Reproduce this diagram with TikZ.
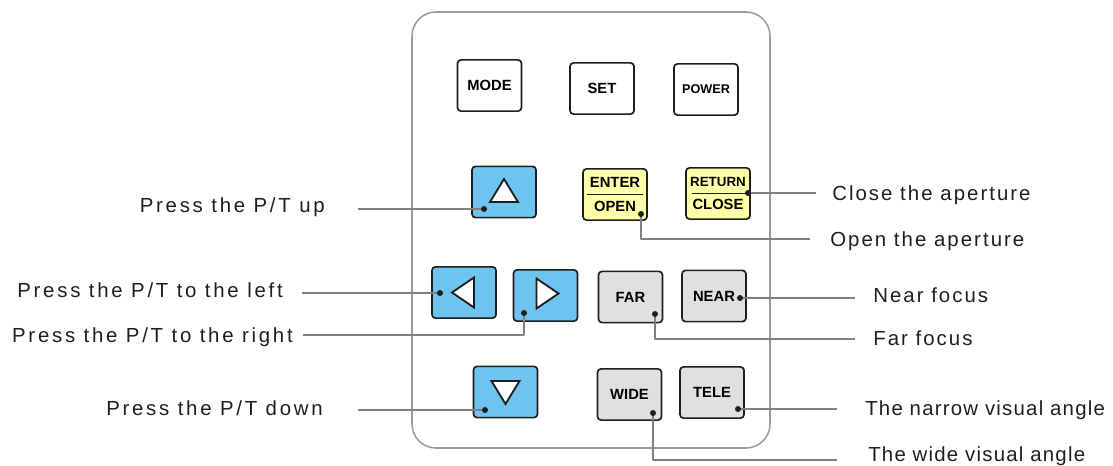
\documentclass[tikz,border=0pt]{standalone}
\usepackage{fontspec}
\setmainfont{Liberation Sans}
\newfontfamily\lblfont[LetterSpace=10]{Liberation Sans}
\newfontfamily\lblwidefont[LetterSpace=13.5]{Liberation Sans}
\newfontfamily\lbltightfont[LetterSpace=6]{Liberation Sans}
\usetikzlibrary{positioning,calc}
\definecolor{ink}{HTML}{1E1E1E}
\definecolor{panelcol}{HTML}{9C9C9C}
\definecolor{leadcol}{HTML}{808080}
\definecolor{ptcol}{HTML}{6EC4EF}
\definecolor{apcol}{HTML}{FFFFAA}
\definecolor{lenscol}{HTML}{E0E0E0}

\begin{document}
\begin{tikzpicture}[
  x=0.025cm, y=-0.025cm, line join=round,
  panel/.style={draw=panelcol, line width=1.1pt, rounded corners=0.6cm},
  key/.style={draw=ink, fill=white, line width=1.2pt, rounded corners=2.5pt,
              minimum width=1.6cm, minimum height=1.28cm, inner sep=0pt,
              align=center, font=\bfseries\fontsize{10.5}{16.5}\selectfont},
  ptkey/.style={key, fill=ptcol},
  apkey/.style={key, fill=apcol},
  lenskey/.style={key, fill=lenscol},
  tri/.style={draw=ink, fill=white, line width=1.3pt, line join=miter},
  lead/.style={draw=leadcol, line width=0.9pt},
  lbl/.style={text=ink, inner sep=0pt, font=\lblfont\fontsize{14.5}{17}\selectfont},
  lblwide/.style={lbl, font=\lblwidefont\fontsize{14.5}{17}\selectfont},
  lbltight/.style={lbl, font=\lbltightfont\fontsize{14.5}{17}\selectfont}]

\useasboundingbox (0,0) rectangle (1113,466);

% ---------------------------------------------- the keypad
\draw[panel] (412,12) rectangle (770,448);

\node[key] (mode) at (489.5,85.5) {MODE};
\node[key] (set) at (602,88.5) {SET};
\node[key, font=\bfseries\fontsize{9}{10}\selectfont] (power) at (706,89.5) {POWER};

\node[ptkey] (up) at (504,192) {};
\node[apkey] (ent) at (615,194.5) {ENTER\\OPEN};
\node[apkey] (ret) at (718,193.5)
  {{\fontsize{9.5}{10}\selectfont RETURN}\\CLOSE};
\draw[ink, line width=0.9pt] ([xshift=0.12cm]ent.west) -- ([xshift=-0.12cm]ent.east);
\draw[ink, line width=0.9pt] ([xshift=0.17cm]ret.west) -- ([xshift=-0.1cm]ret.east);

\node[ptkey] (left) at (464,292.5) {};
\node[ptkey] (right) at (545.5,295.5) {};
\node[lenskey] (far) at (630.5,297) {FAR};
\node[lenskey] (near) at (714,296) {NEAR};

\node[ptkey] (down) at (505.5,392) {};
\node[lenskey] (wide) at (629.5,394.5) {WIDE};
\node[lenskey] (tele) at (712,392.5) {TELE};

% arrows on the pan/tilt keys
\draw[tri, shift={(up.center)}] (0,-13) -- (14,10) -- (-14,10) -- cycle;
\draw[tri, shift={(down.center)}] (0,12) -- (14,-11) -- (-14,-11) -- cycle;
\draw[tri, shift={(left.center)}] (-12,0) -- (10,-15) -- (10,15) -- cycle;
\draw[tri, shift={(right.center)}] (13,-2) -- (-9,-17) -- (-9,13) -- cycle;

% ---------------------------------------------- contact points
\coordinate (dUp) at (484,209);
\coordinate (dEnt) at (641,214);
\coordinate (dRet) at (748,193);
\coordinate (dLeft) at (440,293);
\coordinate (dRight) at (524,313);
\coordinate (dFar) at (655,314);
\coordinate (dNear) at (740,298);
\coordinate (dDown) at (485,410);
\coordinate (dWide) at (653,413);
\coordinate (dTele) at (738,409);

% ---------------------------------------------- leader ends
\coordinate (eUp) at (358,209);
\coordinate (eLeft) at (302,293);
\coordinate (eRight) at (303,335);
\coordinate (eDown) at (358,410);
\coordinate (eRet) at (816,193);
\coordinate (eEnt) at (810,239);
\coordinate (eNear) at (855,298);
\coordinate (eFar) at (855,339);
\coordinate (eTele) at (837,409);
\coordinate (eWide) at (837,460);

\draw[lead] (dUp) -- (eUp);
\draw[lead] (dLeft) -- (eLeft);
\draw[lead] (dRight) |- (eRight);
\draw[lead] (dDown) -- (eDown);
\draw[lead] (dRet) -- (eRet);
\draw[lead] (dEnt) |- (eEnt);
\draw[lead] (dNear) -- (eNear);
\draw[lead] (dFar) |- (eFar);
\draw[lead] (dTele) -- (eTele);
\draw[lead] (dWide) |- (eWide);

\foreach \d in {dUp,dEnt,dRet,dLeft,dRight,dFar,dNear,dDown,dWide,dTele}
  \fill[ink] (\d) circle (3);

% ---------------------------------------------- labels
\node[lblwide, anchor=base east] (lUp) at (325,212) {Press the P/T up};
\node[lblwide, anchor=base east] (lLeft) at (283,297) {Press the P/T to the left};
\node[lblwide, anchor=base east] (lRight) at (293,342) {Press the P/T to the right};
\node[lblwide, anchor=base east] (lDown) at (323,415.5) {Press the P/T down};

\node[lbl, anchor=base west] (lRet) at (832,200) {Close the aperture};
\node[lbl, anchor=base west] (lEnt) at (830,246.5) {Open the aperture};
\node[lbl, anchor=base west] (lNear) at (873,302.5) {Near\ focus};
\node[lbl, anchor=base west] (lFar) at (873,345) {Far\ focus};
\node[lbltight, anchor=base west] (lTele) at (865,415) {The narrow visual angle};
\node[lbltight, anchor=base west] (lWide) at (868,461.5) {The wide visual angle};

\end{tikzpicture}
\end{document}
